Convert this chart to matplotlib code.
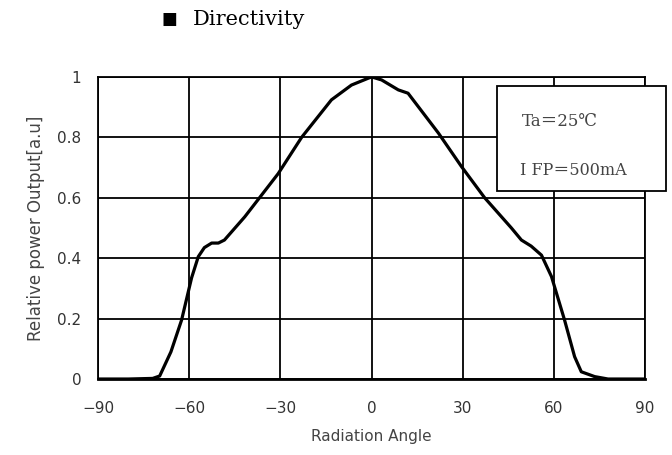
import numpy as np
import matplotlib.pyplot as plt
from matplotlib.patches import Rectangle

angle = [-90, -80, -72, -69.7, -66, -62.5, -59.2, -57, -55, -52.6, -50.4, -48.4, -41.7,
         -30.7, -23, -13.2, -6.6, -1, 0, 3.3, 8.8, 12, 22, 29.6, 37.2, 46, 49.3, 52.5, 55.9,
         59.2, 63.5, 66.8, 69, 73.4, 77.8, 90]
power = [0, 0, 0.002, 0.01, 0.09, 0.195, 0.335, 0.405, 0.435, 0.45, 0.45, 0.46, 0.537,
         0.68, 0.80, 0.924, 0.973, 0.996, 1.0, 0.99, 0.957, 0.946, 0.814, 0.703, 0.60, 0.50,
         0.46, 0.44, 0.41, 0.339, 0.195, 0.074, 0.024, 0.008, 0.0, 0]

xticks = [-90, -60, -30, 0, 30, 60, 90]
xtick_labels = ['\u221290', '\u221260', '\u221230', '0', '30', '60', '90']
yticks = [0, 0.2, 0.4, 0.6, 0.8, 1]
ytick_labels = ['0', '0.2', '0.4', '0.6', '0.8', '1']

plt.rcParams['font.family'] = ['DejaVu Sans']

fig = plt.figure(figsize=(6.72, 4.55), dpi=100)
ax = fig.add_axes([0.1458, 0.167, 0.8142, 0.664])

ax.plot(angle, power, color='black', lw=2.3, solid_joinstyle='round')
ax.set_xlim(-90, 90)
ax.set_ylim(0, 1)
ax.set_xticks(xticks)
ax.set_xticklabels(xtick_labels)
ax.set_yticks(yticks)
ax.set_yticklabels(ytick_labels)
ax.tick_params(length=0, labelsize=11, colors='#333333')
ax.tick_params(axis='x', pad=16)
ax.tick_params(axis='y', pad=12)
ax.grid(True, color='black', lw=1.3)
for s in ax.spines.values():
    s.set_color('black')
    s.set_linewidth(1.3)
ax.spines['bottom'].set_linewidth(2)

ax.set_xlabel('Radiation Angle', fontsize=11, color='#444444', labelpad=9)
ax.set_ylabel('Relative power Output[a.u]', fontsize=12, color='#444444', labelpad=9)

# condition box
box = Rectangle((0.729, 0.623), 0.309, 0.347, transform=ax.transAxes,
                facecolor='white', edgecolor='black', lw=1.3, clip_on=False, zorder=5)
ax.add_patch(box)
serif = ['DejaVu Serif', 'Noto Sans CJK JP']
ax.text(0.775, 0.854, 'Ta\uff1d25\u2103', transform=ax.transAxes, fontsize=12,
        family=serif, color='#444444', va='center', zorder=6)
ax.text(0.771, 0.689, 'I FP\uff1d500mA', transform=ax.transAxes, fontsize=11.5,
        family=serif, color='#444444', va='center', zorder=6)

fig.text(0.241, 0.958, '\u25a0', fontsize=12, family=['DejaVu Sans'], va='center')
fig.text(0.287, 0.958, 'Directivity', fontsize=15, family=serif, va='center')

fig.savefig('out.png', dpi=100)
